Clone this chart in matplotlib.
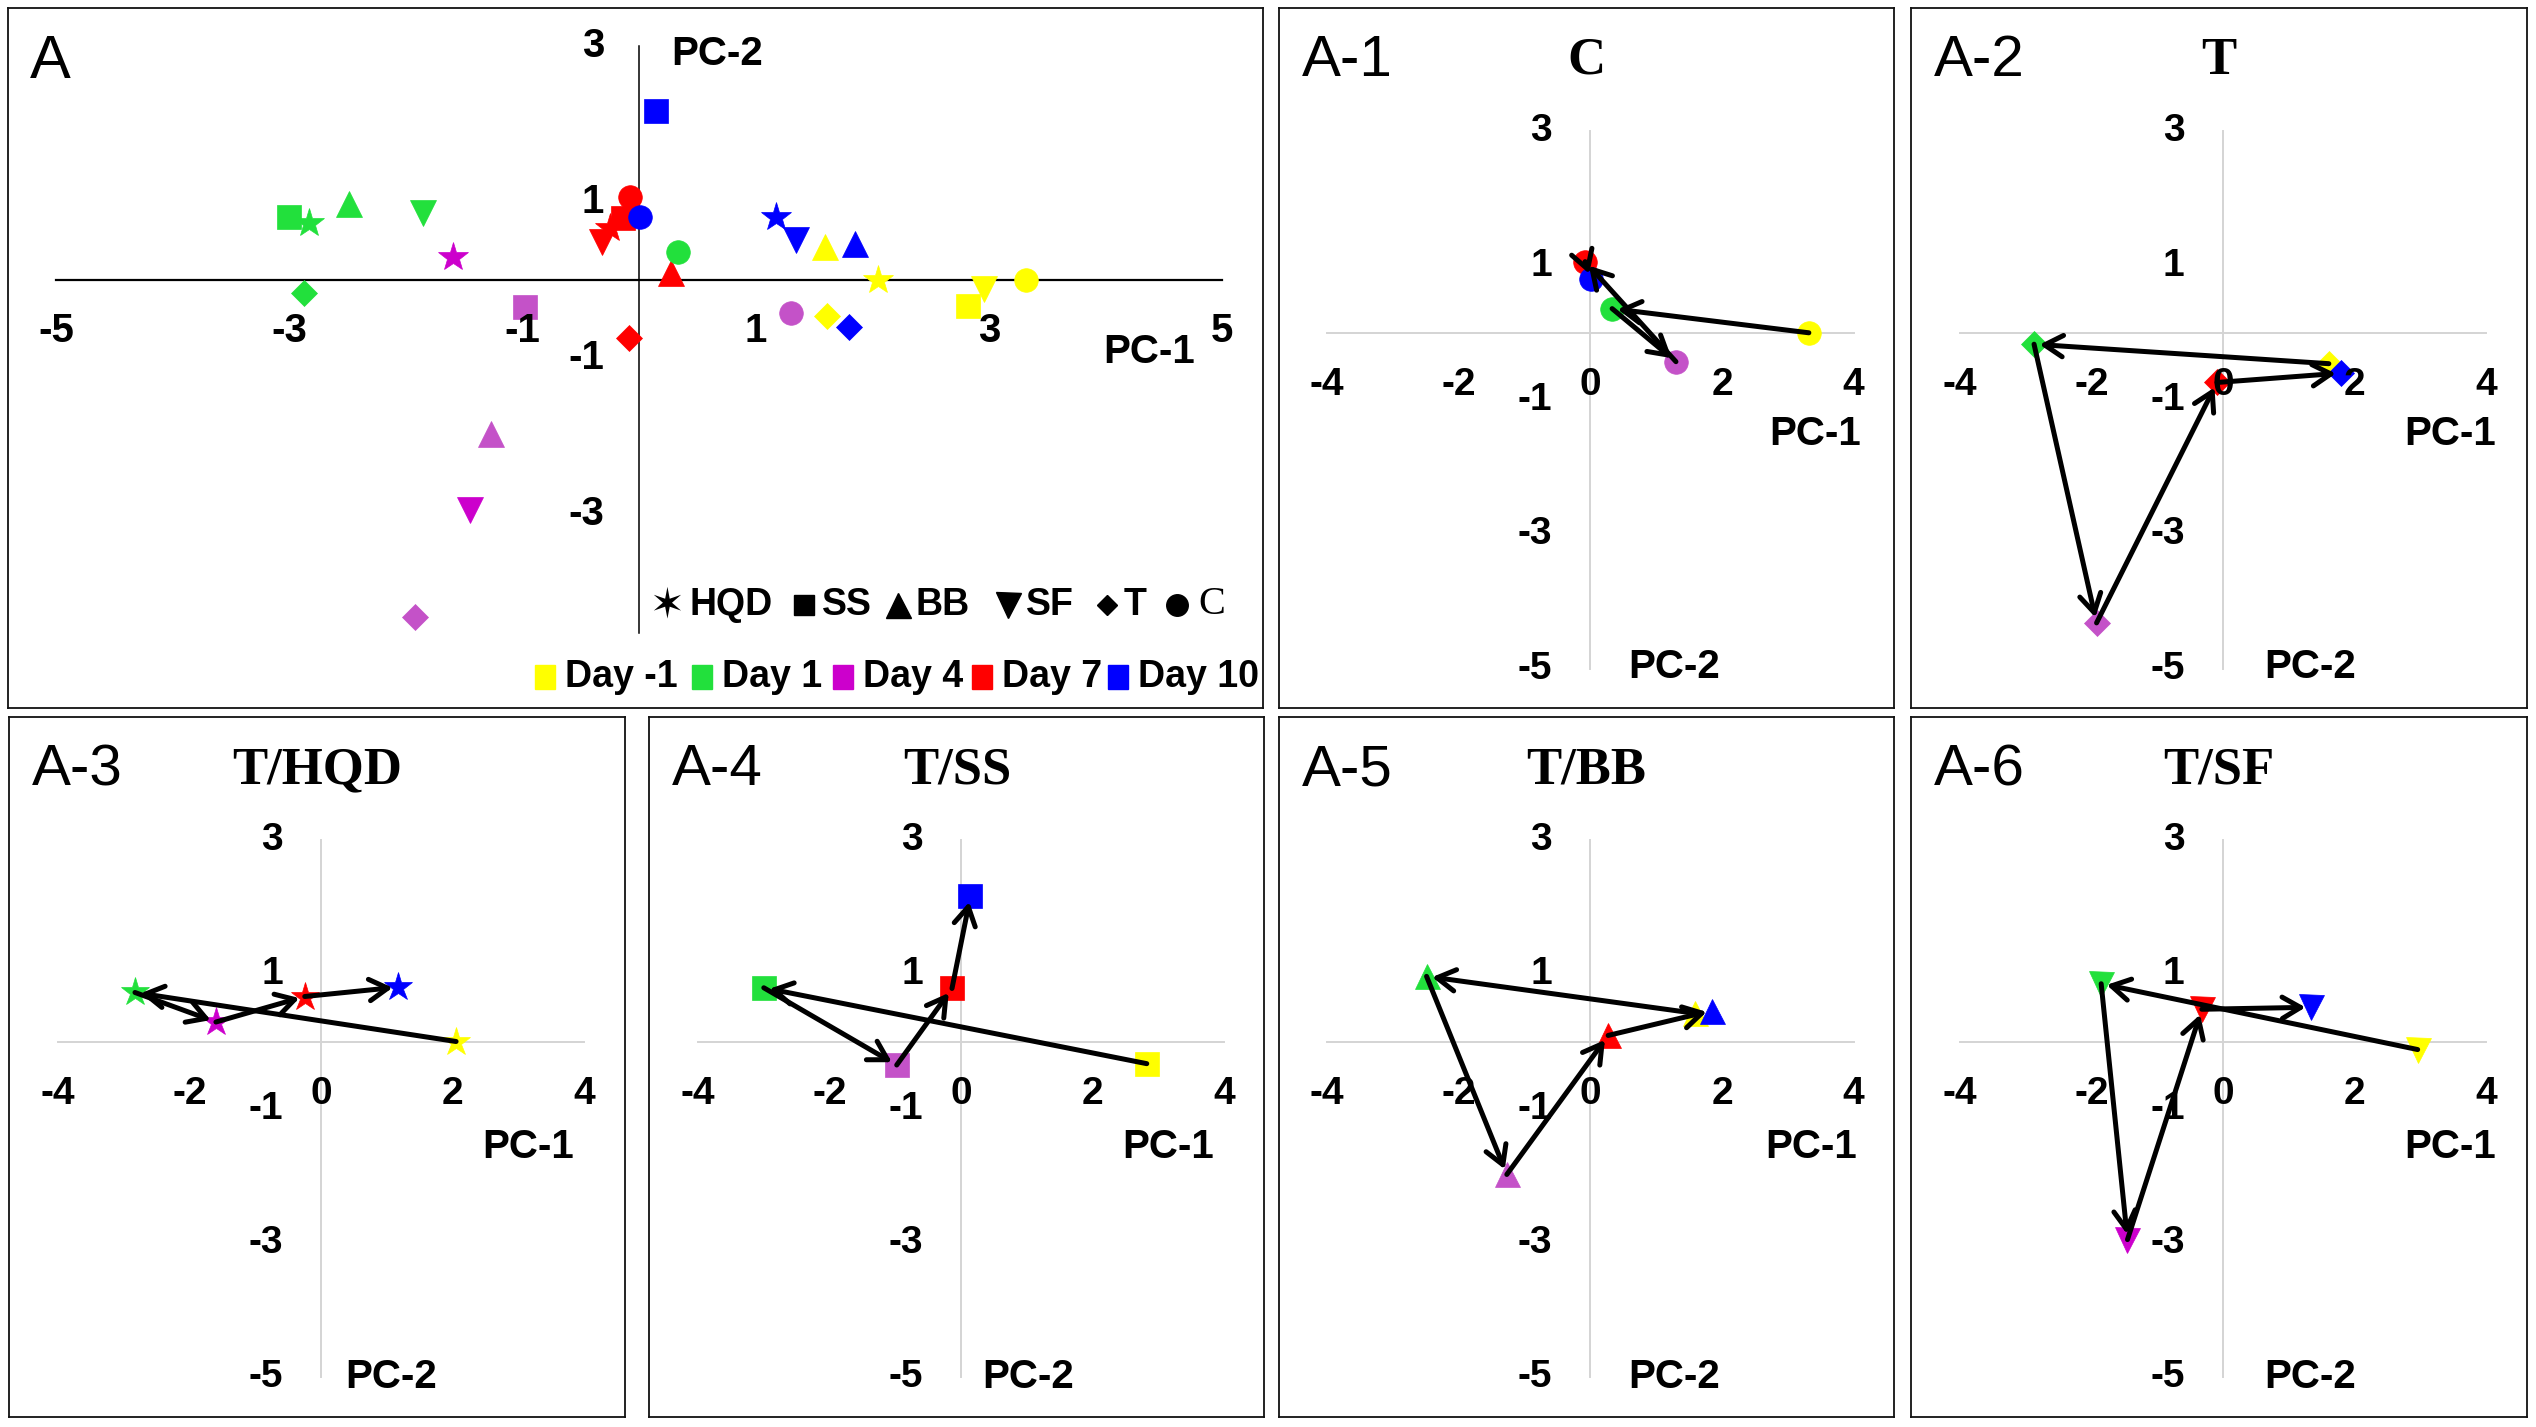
import matplotlib
matplotlib.use("Agg")
import matplotlib.pyplot as plt
from matplotlib.patches import Rectangle

# ---------------- data ----------------
days = ["Day -1", "Day 1", "Day 4", "Day 7", "Day 10"]
treatments = ["HQD", "SS", "BB", "SF", "T", "C"]

# PC-1 / PC-2 scores, one value per day (Day -1, 1, 4, 7, 10)
pc1_HQD = [2.05, -2.83, -1.60, -0.25, 1.17]
pc2_HQD = [0.00, 0.73, 0.29, 0.67, 0.81]
pc1_SS = [2.82, -3.00, -0.98, -0.14, 0.14]
pc2_SS = [-0.33, 0.80, -0.35, 0.79, 2.16]
pc1_BB = [1.59, -2.49, -1.27, 0.27, 1.85]
pc2_BB = [0.42, 0.97, -1.98, 0.09, 0.46]
pc1_SF = [2.96, -1.85, -1.45, -0.32, 1.34]
pc2_SF = [-0.12, 0.86, -2.95, 0.48, 0.51]
pc1_T = [1.61, -2.87, -1.92, -0.09, 1.80]
pc2_T = [-0.46, -0.17, -4.32, -0.74, -0.60]
pc1_C = [3.32, 0.33, 1.30, -0.08, 0.01]
pc2_C = [0.00, 0.36, -0.43, 1.06, 0.80]

scores = {
    "HQD": (pc1_HQD, pc2_HQD),
    "SS": (pc1_SS, pc2_SS),
    "BB": (pc1_BB, pc2_BB),
    "SF": (pc1_SF, pc2_SF),
    "T": (pc1_T, pc2_T),
    "C": (pc1_C, pc2_C),
}

main_xticks = [-5, -3, -1, 1, 3, 5]
main_yticks = [3, 1, -1, -3]
sub_xticks = [-4, -2, 0, 2, 4]
sub_yticks = [3, 1, -1, -3, -5]

sub_panels = [("A-1", "C", "C"), ("A-2", "T", "T"), ("A-3", "T/HQD", "HQD"),
              ("A-4", "T/SS", "SS"), ("A-5", "T/BB", "BB"), ("A-6", "T/SF", "SF")]

# ---------------- styles ----------------
markers = {"HQD": "*", "SS": "s", "BB": "^", "SF": "v", "T": "D", "C": "o"}
main_ms = {"HQD": 22, "SS": 17.5, "BB": 18.5, "SF": 18.5, "T": 13.5, "C": 17}
sub_ms = {"HQD": 21, "SS": 17, "BB": 18, "SF": 18, "T": 13, "C": 17}
YEL, GRN, MAG, PUR, RED, BLU = "#FFFF00", "#22E03C", "#CC00CC", "#C452C8", "#FF0000", "#0000FF"
day4_col = {"HQD": MAG, "SF": MAG, "SS": PUR, "BB": PUR, "T": PUR, "C": PUR}


def day_colors(t):
    return [YEL, GRN, day4_col[t], RED, BLU]


W, H = 2536, 1427
fig = plt.figure(figsize=(W / 100, H / 100), dpi=100)
fig.patch.set_facecolor("white")

SANS = ["Liberation Sans", "Arial", "DejaVu Sans"]
SERIF = ["Liberation Serif", "Times New Roman", "DejaVu Serif"]


def make_ax(box, origin, ux, uy):
    l, t, r, b = box
    ox, oy = origin
    ax = fig.add_axes([l / W, 1 - b / H, (r - l) / W, (b - t) / H])
    ax.set_xlim((l - ox) / ux, (r - ox) / ux)
    ax.set_ylim((oy - b) / uy, (oy - t) / uy)
    ax.set_xticks([])
    ax.set_yticks([])
    for s in ax.spines.values():
        s.set_linewidth(1.3)
        s.set_color("#111111")
    return ax


# ---------------- main panel A ----------------
axm = make_ax((8, 8, 1263, 708), (639.2, 279.8), 116.65, 78.0)
axm.plot([-5, 5], [0, 0], color="black", lw=1.6, zorder=1)
axm.plot([0, 0], [3, -4.53], color="black", lw=1.1, zorder=1)
for t in treatments:
    xs, ys = scores[t]
    cols = day_colors(t)
    for i in range(len(days)):
        axm.plot(xs[i], ys[i], marker=markers[t], ms=main_ms[t], color=cols[i],
                 mec=cols[i], mew=0.5, ls="none", zorder=3)
for v in main_xticks:
    axm.text(v, -0.65, f"{v}", ha="center", va="center", fontsize=29,
             fontweight="bold", family=SANS, zorder=5)
for v in main_yticks:
    axm.text(-0.3, v, f"{v}", ha="right", va="center", fontsize=29,
             fontweight="bold", family=SANS, zorder=5)
axm.text(0.67, 2.90, "PC-2", ha="center", va="center", fontsize=29,
         fontweight="bold", family=SANS)
axm.text(4.37, -0.93, "PC-1", ha="center", va="center", fontsize=29,
         fontweight="bold", family=SANS)

# ---------------- sub panels ----------------
sub_boxes = [(1279, 8, 1894, 708), (1911, 8, 2527, 708), (9, 717, 625, 1417),
             (649, 717, 1264, 1417), (1279, 717, 1894, 1417), (1911, 717, 2527, 1417)]
sub_origins = [(1590.4, 332.8), (2222.9, 332.8), (321.2, 1041.5),
               (961.2, 1041.5), (1590.4, 1041.5), (2222.9, 1041.5)]
pc1_pos = [(3.42, -1.50), (3.45, -1.50), (3.15, -1.57), (3.15, -1.57), (3.36, -1.57), (3.45, -1.57)]
pc2_pos = [(1.27, -4.97), (1.32, -4.97), (1.06, -5.0), (1.01, -5.0), (1.27, -5.0), (1.32, -5.0)]

for k, (lab, title, t) in enumerate(sub_panels):
    ax = make_ax(sub_boxes[k], sub_origins[k], 65.8, 67.15)
    ax.plot([-4, 4], [0, 0], color="#D4D4D4", lw=1.4, zorder=1)
    ax.plot([0, 0], [3, -5], color="#D4D4D4", lw=1.4, zorder=1)
    xs, ys = scores[t]
    cols = day_colors(t)
    for i in range(len(days)):
        ax.plot(xs[i], ys[i], marker=markers[t], ms=sub_ms[t], color=cols[i],
                mec=cols[i], mew=0.5, ls="none", zorder=2)
    for i in range(len(days) - 1):
        ax.annotate("", xy=(xs[i + 1], ys[i + 1]), xytext=(xs[i], ys[i]),
                    arrowprops=dict(arrowstyle="->,head_length=0.6,head_width=0.35",
                                    lw=3.6, color="black", shrinkA=0, shrinkB=4,
                                    mutation_scale=22),
                    zorder=3)
    for v in sub_xticks:
        ax.text(v, -0.78, f"{v}", ha="center", va="center", fontsize=28,
                fontweight="bold", family=SANS, zorder=5)
    for v in sub_yticks:
        ax.text(-0.58, v, f"{v}", ha="right", va="center", fontsize=28,
                fontweight="bold", family=SANS, zorder=5)
    ax.text(*pc1_pos[k], "PC-1", ha="center", va="center", fontsize=29,
            fontweight="bold", family=SANS)
    ax.text(*pc2_pos[k], "PC-2", ha="center", va="center", fontsize=29,
            fontweight="bold", family=SANS)

# ---------------- overlay (titles & legend, pixel coords) ----------------
ov = fig.add_axes([0, 0, 1, 1])
ov.set_xlim(0, W)
ov.set_ylim(H, 0)
ov.axis("off")
ov.patch.set_alpha(0)

ov.text(30, 62, "A", ha="left", va="center", fontsize=44, family=SANS)
for k, (lab, title, t) in enumerate(sub_panels):
    l, tp, r, b = sub_boxes[k]
    ov.text(l + 23, tp + 53, lab, ha="left", va="center", fontsize=42, family=SANS)
    ov.text(sub_origins[k][0] - 4, tp + 53, title, ha="center", va="center",
            fontsize=38, fontweight="bold", family=SERIF)

# legend row 1: treatment symbols
leg_sym_x = [667, 804, 898, 1008, 1107, 1177]
leg_txt_x = [690, 822, 916, 1026, 1124, 1198]
leg_sym_ms = {"SS": 14, "BB": 18, "SF": 18, "T": 10.5, "C": 15.5}
ry = 605
for j, t in enumerate(treatments):
    if t == "HQD":
        ov.text(leg_sym_x[j], ry, "\u2736", ha="center", va="center", fontsize=30,
                family=["DejaVu Sans"], color="black")
    else:
        ov.plot(leg_sym_x[j], ry, marker=markers[t], ms=leg_sym_ms[t], color="black", ls="none")
    if t == "C":
        ov.text(leg_txt_x[j], ry, t, ha="left", va="center", fontsize=29, family=SERIF)
    else:
        ov.text(leg_txt_x[j], ry, t, ha="left", va="center", fontsize=27,
                fontweight="bold", family=SANS)

# legend row 2: day colours
leg_day_x = [545, 702, 843, 982, 1118]
leg_day_col = [YEL, GRN, MAG, RED, BLU]
ry2 = 677
for j, d in enumerate(days):
    ov.add_patch(Rectangle((leg_day_x[j] - 10, ry2 - 12), 20, 24, color=leg_day_col[j]))
    ov.text(leg_day_x[j] + 20, ry2, d, ha="left", va="center", fontsize=27,
            fontweight="bold", family=SANS)

fig.savefig("out.png", dpi=100)
